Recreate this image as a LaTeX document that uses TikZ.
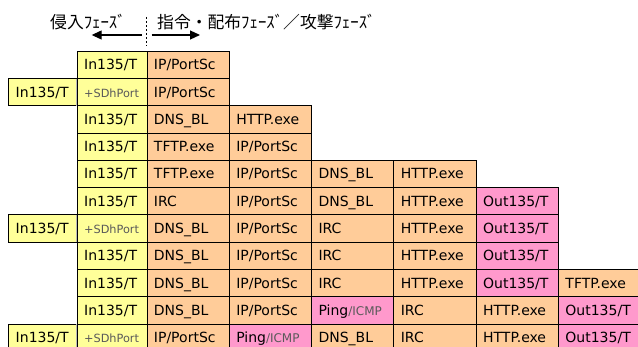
\documentclass[tikz,border=0pt]{standalone}
\usepackage{fontspec}
\setmainfont{DejaVu Sans}
\newfontfamily\jpfont{Noto Sans CJK JP}
\usetikzlibrary{arrows.meta}
\definecolor{yel}{HTML}{FFFF99}
\definecolor{pch}{HTML}{FFCC99}
\definecolor{pnk}{HTML}{FF99CC}
\definecolor{dimtxt}{HTML}{5A5A5A}
\tikzset{
  cellbox/.style={draw=black, line width=0.9pt, anchor=north west,
    minimum height=27.3pt, inner xsep=7pt, inner ysep=0pt,
    text height=10pt, text depth=0pt, align=left,
    font=\fontsize{14}{15}\selectfont},
  hdr/.style={anchor=base west, inner sep=0pt, font=\jpfont\fontsize{16.8}{18}\selectfont},
  phasearrow/.style={line width=1.2pt, -{Triangle[length=10pt,width=9pt]}},
  phasesep/.style={line width=1pt, dash pattern=on 2pt off 2pt},
  sepline/.style={draw=gray!55, line width=0.9pt, shorten <=0.6pt, shorten >=0.6pt}
}
\newcommand\mycell[6]{\pgfmathsetmacro\mytw{#3-14}\node[cellbox,fill=#5,minimum width=#3pt,text width=\mytw pt] (#1) at (#2,{50.7+27.3*#4}) {#6};}
\newcommand\sdtxt{{\fontsize{11.3}{12}\selectfont\color{dimtxt}+SDhPort}}
\newcommand\pingtxt{Ping{\fontsize{12}{13}\selectfont\color{dimtxt}/ICMP}}
\begin{document}
\begin{tikzpicture}[x=1pt,y=-1pt]
\useasboundingbox (0,0) rectangle (638,347);
% header
\node[hdr] (ph1) at (50,28.5) {侵入ﾌｪｰｽﾞ};
\node[hdr] (ph2) at (157,28.5) {指令・配布ﾌｪｰｽﾞ／攻撃ﾌｪｰｽﾞ};
\coordinate (la0) at (141.7,35); \coordinate (la1) at (91.7,35);
\coordinate (ra0) at (151.7,35); \coordinate (ra1) at (200,35);
\coordinate (d0) at (146,17); \coordinate (d1) at (146,46);
\draw[phasearrow] (la0) -- (la1);
\draw[phasearrow] (ra0) -- (ra1);
\draw[phasesep] (d0) -- (d1);
% row 0
\mycell{r0c1}{76.7}{69.8}{0}{yel}{In135/T}
\mycell{r0c2}{146.5}{82.3}{0}{pch}{IP/PortSc}
% row 1
\mycell{r1c0}{8.3}{68.4}{1}{yel}{In135/T}
\mycell{r1c1}{76.7}{69.8}{1}{yel}{\sdtxt}
\mycell{r1c2}{146.5}{82.3}{1}{pch}{IP/PortSc}
% row 2
\mycell{r2c1}{76.7}{69.8}{2}{yel}{In135/T}
\mycell{r2c2}{146.5}{82.3}{2}{pch}{DNS\_BL}
\mycell{r2c3}{228.8}{82.3}{2}{pch}{HTTP.exe}
% row 3
\mycell{r3c1}{76.7}{69.8}{3}{yel}{In135/T}
\mycell{r3c2}{146.5}{82.3}{3}{pch}{TFTP.exe}
\mycell{r3c3}{228.8}{82.3}{3}{pch}{IP/PortSc}
% row 4
\mycell{r4c1}{76.7}{69.8}{4}{yel}{In135/T}
\mycell{r4c2}{146.5}{82.3}{4}{pch}{TFTP.exe}
\mycell{r4c3}{228.8}{82.3}{4}{pch}{IP/PortSc}
\mycell{r4c4}{311.1}{82.3}{4}{pch}{DNS\_BL}
\mycell{r4c5}{393.4}{82.3}{4}{pch}{HTTP.exe}
% row 5
\mycell{r5c1}{76.7}{69.8}{5}{yel}{In135/T}
\mycell{r5c2}{146.5}{82.3}{5}{pch}{IRC}
\mycell{r5c3}{228.8}{82.3}{5}{pch}{IP/PortSc}
\mycell{r5c4}{311.1}{82.3}{5}{pch}{DNS\_BL}
\mycell{r5c5}{393.4}{82.3}{5}{pch}{HTTP.exe}
\mycell{r5c6}{475.7}{82.3}{5}{pnk}{Out135/T}
% row 6
\mycell{r6c0}{8.3}{68.4}{6}{yel}{In135/T}
\mycell{r6c1}{76.7}{69.8}{6}{yel}{\sdtxt}
\mycell{r6c2}{146.5}{82.3}{6}{pch}{DNS\_BL}
\mycell{r6c3}{228.8}{82.3}{6}{pch}{IP/PortSc}
\mycell{r6c4}{311.1}{82.3}{6}{pch}{IRC}
\mycell{r6c5}{393.4}{82.3}{6}{pch}{HTTP.exe}
\mycell{r6c6}{475.7}{82.3}{6}{pnk}{Out135/T}
% row 7
\mycell{r7c1}{76.7}{69.8}{7}{yel}{In135/T}
\mycell{r7c2}{146.5}{82.3}{7}{pch}{DNS\_BL}
\mycell{r7c3}{228.8}{82.3}{7}{pch}{IP/PortSc}
\mycell{r7c4}{311.1}{82.3}{7}{pch}{IRC}
\mycell{r7c5}{393.4}{82.3}{7}{pch}{HTTP.exe}
\mycell{r7c6}{475.7}{82.3}{7}{pnk}{Out135/T}
% row 8
\mycell{r8c1}{76.7}{69.8}{8}{yel}{In135/T}
\mycell{r8c2}{146.5}{82.3}{8}{pch}{DNS\_BL}
\mycell{r8c3}{228.8}{82.3}{8}{pch}{IP/PortSc}
\mycell{r8c4}{311.1}{82.3}{8}{pch}{IRC}
\mycell{r8c5}{393.4}{82.3}{8}{pch}{HTTP.exe}
\mycell{r8c6}{475.7}{82.3}{8}{pnk}{Out135/T}
\mycell{r8c7}{558}{82.3}{8}{pch}{TFTP.exe}
% row 9
\mycell{r9c1}{76.7}{69.8}{9}{yel}{In135/T}
\mycell{r9c2}{146.5}{82.3}{9}{pch}{DNS\_BL}
\mycell{r9c3}{228.8}{82.3}{9}{pch}{IP/PortSc}
\mycell{r9c4}{311.1}{82.3}{9}{pnk}{\pingtxt}
\mycell{r9c5}{393.4}{82.3}{9}{pch}{IRC}
\mycell{r9c6}{475.7}{82.3}{9}{pch}{HTTP.exe}
\mycell{r9c7}{558}{82.3}{9}{pnk}{Out135/T}
% row 10
\mycell{r10c0}{8.3}{68.4}{10}{yel}{In135/T}
\mycell{r10c1}{76.7}{69.8}{10}{yel}{\sdtxt}
\mycell{r10c2}{146.5}{82.3}{10}{pch}{IP/PortSc}
\mycell{r10c3}{228.8}{82.3}{10}{pnk}{\pingtxt}
\mycell{r10c4}{311.1}{82.3}{10}{pch}{DNS\_BL}
\mycell{r10c5}{393.4}{82.3}{10}{pch}{IRC}
\mycell{r10c6}{475.7}{82.3}{10}{pch}{HTTP.exe}
\mycell{r10c7}{558}{82.3}{10}{pnk}{Out135/T}
% grey separators inside merged-looking cells
\draw[sepline] (r1c1.north west) -- (r1c1.south west);
\draw[sepline] (r6c1.north west) -- (r6c1.south west);
\draw[sepline] (r10c1.north west) -- (r10c1.south west);
\end{tikzpicture}
\end{document}
